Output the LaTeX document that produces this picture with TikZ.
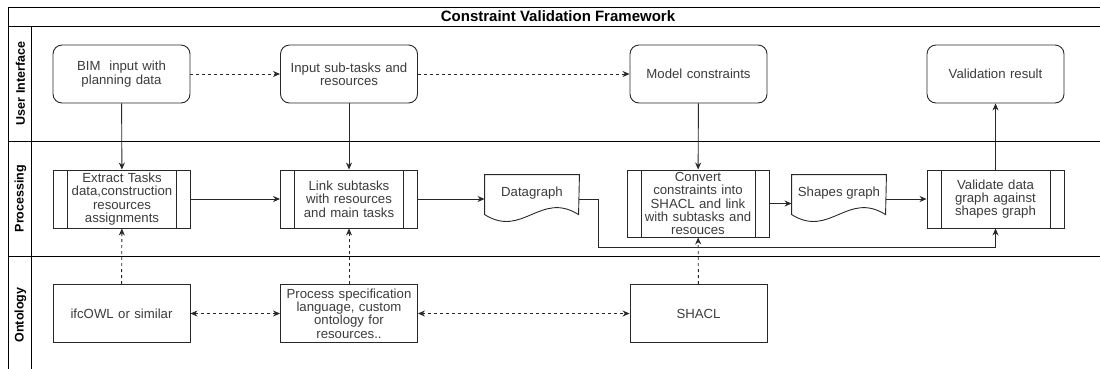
\documentclass[tikz,border=0pt]{standalone}
\usepackage{fontspec}
\setmainfont{Liberation Sans}
\usetikzlibrary{arrows.meta}
\definecolor{ln}{RGB}{40,40,40}
\definecolor{tx}{RGB}{60,60,60}
\newcommand{\fs}{\fontsize{13.2}{13.4}\selectfont}
\begin{document}
\begin{tikzpicture}[x=1pt,y=-1pt,line width=0.9pt,
  box/.style={draw=ln, minimum width=137pt, minimum height=58pt, text width=136pt,
    align=center, inner sep=0pt, font=\fs, text=tx},
  uibox/.style={box, rounded corners=9pt},
  procbox/.style={box, path picture={
      \draw[ln,line width=0.9pt] ([xshift=14pt]path picture bounding box.north west) -- ([xshift=14pt]path picture bounding box.south west);
      \draw[ln,line width=0.9pt] ([xshift=-14pt]path picture bounding box.north east) -- ([xshift=-14pt]path picture bounding box.south east);}},
  docbox/.style={minimum width=94pt, minimum height=48pt, inner sep=0pt},
  txt/.style={font=\fs, text=tx, align=center, inner sep=0pt},
  lanelab/.style={rotate=90, font=\bfseries\fontsize{12.5}{14}\selectfont, text=black, inner sep=0pt},
  arr/.style={draw=ln, -{Stealth[length=7pt,width=6pt]}},
  darr/.style={arr, dash pattern=on 3pt off 3pt},
  biarr/.style={draw=ln, dash pattern=on 3pt off 3pt, {Stealth[length=7pt,width=6pt]}-{Stealth[length=7pt,width=6pt]}}
]
\useasboundingbox (0,0) rectangle (1100,368);
\clip (0,0) rectangle (1100,368);
\fill[white] (0,0) rectangle (1100,368);
% frame
\draw[black,line width=1pt] (8,7) rectangle (1108,374);
\draw[black,line width=1pt] (8,26) -- (1108,26);
\draw[black,line width=1pt] (31,26) -- (31,374);
\draw[black,line width=1pt] (8,141) -- (1108,141);
\draw[black,line width=1pt] (8,256) -- (1108,256);
\node[font=\bfseries\fontsize{15}{17}\selectfont, inner sep=0pt] (title) at (558,16.5) {Constraint Validation Framework};
\node[lanelab] (l1) at (20.5,83.5) {User Interface};
\node[lanelab] (l2) at (20.5,198.5) {Processing};
\node[lanelab] (l3) at (20.5,315) {Ontology};
% UI
\node[uibox] (bim) at (121.5,74) {BIM~ input with\\planning data};
\node[uibox] (inp) at (349,74) {Input sub-tasks and\\resources};
\node[uibox] (mod) at (698.5,74) {Model constraints};
\node[uibox] (res) at (995.5,74) {Validation result};
% Processing
\node[procbox] (ext) at (122,199) {Extract Tasks\\data,construction\\resources\\assignments};
\node[procbox] (lnk) at (349,199) {Link subtasks\\with resources\\and main tasks};
\node[procbox, minimum width=142pt, minimum height=67pt] (conv) at (698,203.5) {Convert\\constraints into\\SHACL and link\\with subtasks and\\resouces};
\node[procbox] (val) at (995.5,199) {Validate data\\graph against\\shapes graph};
\node[docbox] (dg) at (532,199) {};
\node[docbox] (sg) at (839,199) {};
\draw[ln] (dg.north east) -- (dg.north west) -- ++(0,40) .. controls +(38,24) and +(-38,-24) .. ++(94,0) -- cycle;
\draw[ln] (sg.north east) -- (sg.north west) -- ++(0,40) .. controls +(38,24) and +(-38,-24) .. ++(94,0) -- cycle;
\node[txt] (dgt) at (532,193) {Datagraph};
\node[txt] (sgt) at (839,193) {Shapes graph};
% Ontology
\node[box] (ifc) at (121.5,313.5) {ifcOWL or similar};
\node[box] (psl) at (349,313.5) {Process specification\\language, custom\\ontology for\\resources..};
\node[box] (shacl) at (698.5,313.5) {SHACL};
% connectors
\draw[darr] (bim) -- (inp);
\draw[darr] (inp) -- (mod);
\draw[arr] (bim) -- (ext);
\draw[arr] (inp) -- (lnk);
\draw[arr] (mod) -- (conv);
\draw[arr] (val) -- (res);
\draw[arr] (ext) -- (lnk);
\draw[arr] (lnk) -- (dg.west);
\coordinate (bend) at (598,247);
\draw[arr] (dg.east) -| (bend) -| (val.south);
\draw[arr] (conv.east) -- (conv.east -| sg.west);
\draw[arr] (sg.east) -- (val.west);
\draw[darr] (ifc) -- (ext);
\draw[darr] (psl) -- (lnk);
\draw[darr] (shacl) -- (conv);
\draw[biarr] (ifc) -- (psl);
\draw[biarr] (psl) -- (shacl);
\end{tikzpicture}
\end{document}
